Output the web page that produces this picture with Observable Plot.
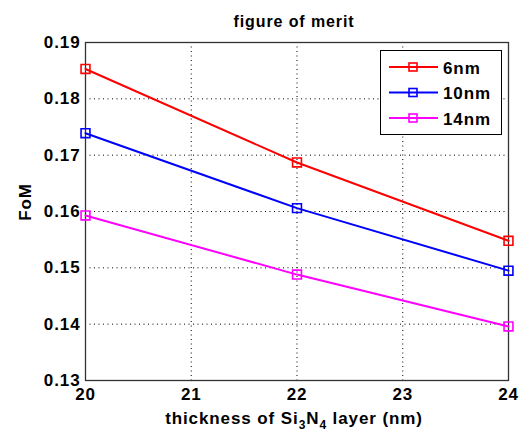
<!DOCTYPE html>
<html>
<head>
<meta charset="utf-8">
<script src="https://cdn.jsdelivr.net/npm/d3@7"></script>
<script src="https://cdn.jsdelivr.net/npm/@observablehq/plot@0.6"></script>
<style>
  html, body { margin: 0; padding: 0; background: #fff; }
  svg { font-family: "Liberation Sans", Arial, sans-serif; }
  svg text { letter-spacing: 0.9px; }
</style>
</head>
<body>
<div id="chart"></div>
<script>
const thickness = [20, 22, 24];
const seriesNames = ["6nm", "10nm", "14nm"];
const seriesColors = ["#ff0000", "#0000ff", "#ff00ff"];
const fom6 = [0.1853, 0.1687, 0.1548];
const fom10 = [0.1739, 0.1606, 0.1495];
const fom14 = [0.1593, 0.1488, 0.1396];
const xTicks = [20, 21, 22, 23, 24];
const yTicks = [0.13, 0.14, 0.15, 0.16, 0.17, 0.18, 0.19];

const allSeries = [fom6, fom10, fom14];
const data = [];
allSeries.forEach((vals, i) => vals.forEach((v, j) => data.push({s: seriesNames[i], x: thickness[j], y: v})));

const W = 519, H = 431;
const chart = Plot.plot({
  width: W, height: H,
  marginLeft: 85, marginRight: 11, marginTop: 42, marginBottom: 51,
  style: {fontFamily: '"Liberation Sans", Arial, sans-serif', background: "#fff"},
  x: {domain: [20, 24], ticks: xTicks},
  y: {domain: [0.13, 0.19], ticks: yTicks},
  color: {domain: seriesNames, range: seriesColors},
  marks: [
    Plot.gridX(xTicks, {stroke: "#000", strokeOpacity: 1, strokeDasharray: "1,3.5", strokeWidth: 1}),
    Plot.gridY(yTicks, {stroke: "#000", strokeOpacity: 1, strokeDasharray: "1,3.5", strokeWidth: 1}),
    Plot.frame({stroke: "#333", strokeWidth: 1.3}),
    Plot.axisX(xTicks, {tickSize: 0, tickPadding: 7, fontSize: 17, fontWeight: "bold", fill: "#000", label: null, tickFormat: d => String(d)}),
    Plot.axisY(yTicks, {tickSize: 0, tickPadding: 5, fontSize: 17, fontWeight: "bold", fill: "#000", label: null, tickFormat: d => d.toFixed(2)}),
    Plot.line(data, {x: "x", y: "y", z: "s", stroke: "s", strokeWidth: 2}),
    Plot.dot(data, {x: "x", y: "y", stroke: "s", symbol: "square", r: 5, strokeWidth: 1.6, fill: "none"})
  ]
});
document.getElementById("chart").appendChild(chart);

const svg = d3.select(chart);
// Title
svg.append("text").attr("x", 294).attr("y", 27).attr("text-anchor", "middle").attr("letter-spacing", "1.2px")
  .attr("font-size", 16).attr("font-weight", "bold").attr("fill", "#000").text("figure of merit");
// Y label
svg.append("text").attr("transform", "translate(31,202) rotate(-90)").attr("text-anchor", "middle")
  .attr("font-size", 17).attr("font-weight", "bold").attr("fill", "#000").text("FoM");
// X label with subscripts
const xl = svg.append("text").attr("x", 294).attr("y", 424).attr("text-anchor", "middle")
  .attr("font-size", 17).attr("font-weight", "bold").attr("fill", "#000");
xl.append("tspan").text("thickness of Si");
xl.append("tspan").attr("font-size", 12).attr("dy", 5).text("3");
xl.append("tspan").attr("dy", -5).text("N");
xl.append("tspan").attr("font-size", 12).attr("dy", 5).text("4");
xl.append("tspan").attr("dy", -5).text(" layer (nm)");

// Legend
const lg = svg.append("g");
lg.append("rect").attr("x", 380.5).attr("y", 50.5).attr("width", 121).attr("height", 84)
  .attr("fill", "#fff").attr("stroke", "#000").attr("stroke-width", 1);
seriesNames.forEach((name, i) => {
  const y = 67 + i * 25.5;
  lg.append("line").attr("x1", 389).attr("x2", 438).attr("y1", y).attr("y2", y)
    .attr("stroke", seriesColors[i]).attr("stroke-width", 2);
  lg.append("rect").attr("x", 409).attr("y", y - 4).attr("width", 8).attr("height", 8)
    .attr("fill", "none").attr("stroke", seriesColors[i]).attr("stroke-width", 1.6);
  lg.append("text").attr("x", 443).attr("y", y + 6.5).attr("text-anchor", "start").attr("font-size", 17).attr("font-weight", "bold")
    .attr("fill", "#000").text(name);
});
</script>
</body>
</html>
